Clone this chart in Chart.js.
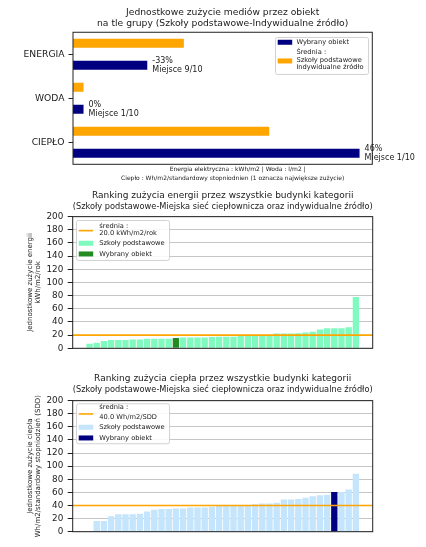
<!DOCTYPE html>
<html>
<head>
<meta charset="utf-8">
<script src="https://cdn.jsdelivr.net/npm/chart.js@4.4.1/dist/chart.umd.min.js"></script>
<style>
  html, body { margin: 0; padding: 0; background: #fff; }
  body { width: 426px; height: 547px; position: relative; overflow: hidden; }
  canvas { position: absolute; left: 0; }
</style>
</head>
<body>
<canvas id="media-chart" width="426" height="190" style="top:0px"></canvas>
<canvas id="energy-chart" width="426" height="176" style="top:186px"></canvas>
<canvas id="heat-chart" width="426" height="179" style="top:368px"></canvas>
<script>
// --- chart 1: selected object vs group average
var CATEGORIES = ['ENERGIA', 'WODA', 'CIEPŁO'];
var GROUP_AVERAGE = [20.0, 1.9, 35.4];
var SELECTED_VALUE = [13.4, 1.9, 51.7];
var CHANGE_LABELS = ['-33%', '0%', '46%'];
var RANK_LABELS = ['Miejsce 9/10', 'Miejsce 1/10', 'Miejsce 1/10'];
var FOOTNOTE = ['Energia elektryczna : kWh/m2 | Woda : l/m2 |',
                'Ciepło : Wh/m2/standardowy stopniodnien (1 oznacza największe zużycie)'];

// --- chart 2: energy ranking
var ENERGY_VALUES = [7, 8.5, 11, 12.5, 12.5, 12.5, 13.5, 13.5, 14.5, 14.5, 14.5, 14.5, 15.5,
                     16.5, 16.5, 16.5, 16.5, 17, 17.5, 17.5, 17.5, 18.5, 18.5, 18.5, 18.5, 18.5,
                     22.5, 22.5, 22.5, 23, 24, 25, 28.5, 30.5, 30.5, 30.5, 32, 78];
var ENERGY_SELECTED = 12;
var ENERGY_MEAN = 20.0;

// --- chart 3: heat ranking
var HEAT_VALUES = [0, 16.5, 16.5, 23.5, 26.5, 26.5, 26.5, 27.5, 31, 33.5, 34.5, 34.5, 35.5,
                   35.5, 37, 37, 37, 38, 39.5, 39.5, 39.5, 39.5, 39.5, 42, 43, 43, 44, 49, 49,
                   50, 52, 54, 55.5, 56.5, 60.5, 60.5, 64.5, 88.5];
var HEAT_SELECTED = 34;
var HEAT_MEAN = 40.0;

var FONT = '"DejaVu Sans", sans-serif';
var TEXT = '#1a1a1a';
var BAR_WIDTH = 0.88;

Chart.defaults.font.family = FONT;
Chart.defaults.color = TEXT;

var framePlugin = {
    id: 'frame',
    afterDatasetsDraw: function(chart) {
        var a = chart.chartArea, ctx = chart.ctx;
        ctx.save();
        ctx.strokeStyle = '#222';
        ctx.lineWidth = 1;
        ctx.strokeRect(a.left, a.top, a.right - a.left, a.bottom - a.top);
        ctx.restore();
    }
};

// legend box drawn inside the plot, like the matplotlib one
function boxLegend(spec) {
    return {
        id: 'boxLegend',
        afterDatasetsDraw: function(chart) {
            var a = chart.chartArea, ctx = chart.ctx;
            var bx = spec.side === 'right' ? a.right - spec.dx - spec.w : a.left + spec.dx;
            var by = a.top + spec.dy;
            ctx.save();
            ctx.beginPath();
            ctx.roundRect(bx + 0.5, by + 0.5, spec.w, spec.h, 2);
            ctx.fillStyle = 'rgba(255,255,255,0.85)';
            ctx.fill();
            ctx.strokeStyle = '#d2d2d2';
            ctx.lineWidth = 1;
            ctx.stroke();
            ctx.font = '6.7px ' + FONT;
            ctx.textBaseline = 'middle';
            ctx.textAlign = 'left';
            spec.items.forEach(function(it) {
                if (it.kind === 'patch') {
                    ctx.fillStyle = it.color;
                    ctx.fillRect(bx + 2.7, by + it.y - 2.5, 14.5, 5);
                } else if (it.kind === 'line') {
                    ctx.strokeStyle = it.color;
                    ctx.lineWidth = 1.6;
                    ctx.beginPath();
                    ctx.moveTo(bx + 2.7, by + it.y);
                    ctx.lineTo(bx + 17.2, by + it.y);
                    ctx.stroke();
                } else {
                    ctx.fillStyle = TEXT;
                    ctx.fillText(it.text, bx + spec.tx, by + it.y);
                }
            });
            ctx.restore();
        }
    };
}

var barLabels = {
    id: 'barLabels',
    afterDatasetsDraw: function(chart) {
        var ctx = chart.ctx, a = chart.chartArea;
        var meta = chart.getDatasetMeta(1);
        ctx.save();
        ctx.fillStyle = TEXT;
        ctx.textBaseline = 'middle';
        ctx.textAlign = 'left';
        ctx.font = '8px ' + FONT;
        meta.data.forEach(function(bar, i) {
            ctx.fillText(CHANGE_LABELS[i], bar.x + 5, bar.y - 4.6);
            ctx.fillText(RANK_LABELS[i], bar.x + 5, bar.y + 4.4);
        });
        // axis note under the plot
        ctx.font = '6px ' + FONT;
        ctx.textAlign = 'center';
        var cx = (a.left + a.right) / 2;
        ctx.fillText(FOOTNOTE[0], cx + 15, a.bottom + 5.4);
        ctx.fillText(FOOTNOTE[1], cx + 10, a.bottom + 13.7);
        ctx.restore();
    }
};

new Chart(document.getElementById('media-chart'), {
    type: 'bar',
    data: {
        labels: CATEGORIES,
        datasets: [
            { label: 'Średnia', data: GROUP_AVERAGE, backgroundColor: '#ffa500' },
            { label: 'Wybrany obiekt', data: SELECTED_VALUE, backgroundColor: '#000080' }
        ]
    },
    options: {
        indexAxis: 'y',
        responsive: false,
        animation: false,
        events: [],
        layout: { padding: { top: 0, left: 0, right: 53.7, bottom: 25.7 } },
        datasets: { bar: { categoryPercentage: 1.0, barPercentage: 0.41 } },
        scales: {
            x: { type: 'linear', min: 0, max: 54, display: false },
            y: {
                type: 'category',
                offset: true,
                grid: { offset: false, drawOnChartArea: false, tickLength: 4.5, tickColor: '#222' },
                border: { display: false },
                ticks: { padding: 4, color: TEXT, font: { size: 9.2 } },
                afterFit: function(s) { s.width = 73; }
            }
        },
        plugins: {
            legend: { display: false },
            tooltip: { enabled: false },
            title: {
                display: true,
                fullSize: false,
                text: ['Jednostkowe zużycie mediów przez obiekt',
                       'na tle grupy (Szkoły podstawowe-Indywidualne źródło)'],
                color: TEXT,
                font: { size: 9.2, weight: 'normal', lineHeight: 1.15 },
                padding: { top: 7.4, bottom: 3.7 }
            }
        }
    },
    plugins: [framePlugin, barLabels, boxLegend({
        side: 'right', dx: 4.3, dy: 4.7, w: 93, h: 37, tx: 21.4,
        items: [
            { kind: 'patch', color: '#000080', y: 5.3 },
            { kind: 'text', text: 'Wybrany obiekt', y: 5.3 },
            { kind: 'text', text: 'Średnia :', y: 15.3 },
            { kind: 'patch', color: '#ffa500', y: 24 },
            { kind: 'text', text: 'Szkoły podstawowe', y: 23.3 },
            { kind: 'text', text: 'Indywidualne źródło', y: 30.7 }
        ]
    })]
});

function rankingChart(id, values, selected, mean, baseColor, selColor, title, yTitle, pad, legend) {
    var n = values.length;
    var margin = 0.05 * (n - 1 + BAR_WIDTH);
    var xMin = -BAR_WIDTH / 2 - margin;
    var xMax = n - 1 + BAR_WIDTH / 2 + margin;
    var points = values.map(function(v, i) { return { x: i, y: v }; });
    var colors = values.map(function(v, i) { return i === selected ? selColor : baseColor; });

    new Chart(document.getElementById(id), {
        type: 'bar',
        data: {
            datasets: [
                {
                    type: 'line', label: 'średnia',
                    data: [{ x: xMin, y: mean }, { x: xMax, y: mean }],
                    borderColor: '#ffa500', borderWidth: 1.6, pointRadius: 0, order: 0
                },
                {
                    type: 'bar', label: 'Szkoły podstawowe', data: points,
                    backgroundColor: colors, categoryPercentage: 1.0, barPercentage: BAR_WIDTH, order: 1
                }
            ]
        },
        options: {
            responsive: false,
            animation: false,
            events: [],
            layout: { padding: { top: 0, left: 0, right: 53.3, bottom: pad.bottom } },
            scales: {
                x: { type: 'linear', min: xMin, max: xMax, offset: false, display: false },
                y: {
                    type: 'linear', min: 0, max: 200,
                    ticks: { stepSize: 20, autoSkip: false, padding: 4.4, color: TEXT, font: { size: 8.8 } },
                    grid: { color: '#c6c6c6', lineWidth: 1, tickLength: 5, tickColor: '#222' },
                    border: { display: false },
                    title: {
                        display: true, text: yTitle, color: TEXT,
                        font: { size: 7, lineHeight: 1.2 },
                        padding: { top: 25.8, bottom: 0 }
                    },
                    afterFit: function(s) { s.width = 72.7; }
                }
            },
            plugins: {
                legend: { display: false },
                tooltip: { enabled: false },
                title: {
                    display: true, fullSize: false, text: title, color: TEXT,
                    font: { size: 9, weight: 'normal', lineHeight: 1.22 },
                    padding: { top: pad.titleTop, bottom: pad.titleBottom }
                }
            }
        },
        plugins: [framePlugin, boxLegend(legend)]
    });
}

rankingChart('energy-chart', ENERGY_VALUES, ENERGY_SELECTED, ENERGY_MEAN, '#80fabe', '#228b22',
    ['Ranking zużycia energii przez wszystkie budynki kategorii',
     '(Szkoły podstawowe-Miejska sieć ciepłownicza oraz indywidualne źródło)'],
    ['Jednostkowe zużycie energii', 'kWh/m2/rok'],
    { titleTop: 4.2, titleBottom: 4.5, bottom: 13.7 },
    { side: 'left', dx: 3.3, dy: 3.3, w: 93, h: 40, tx: 23.3,
      items: [
          { kind: 'text', text: 'średnia :', y: 6.3 },
          { kind: 'line', color: '#ffa500', y: 10.7 },
          { kind: 'text', text: ENERGY_MEAN.toFixed(1) + ' kWh/m2/rok', y: 13.3 },
          { kind: 'patch', color: '#80fabe', y: 23.3 },
          { kind: 'text', text: 'Szkoły podstawowe', y: 23.3 },
          { kind: 'patch', color: '#228b22', y: 34 },
          { kind: 'text', text: 'Wybrany obiekt', y: 34 }
      ] });

rankingChart('heat-chart', HEAT_VALUES, HEAT_SELECTED, HEAT_MEAN, '#c4e5fb', '#000080',
    ['Ranking zużycia ciepła przez wszystkie budynki kategorii',
     '(Szkoły podstawowe-Miejska sieć ciepłownicza oraz indywidualne źródło)'],
    ['Jednostkowe zużycie ciepła', 'Wh/m2/standardowy stopniodzień (SDD)'],
    { titleTop: 5.5, titleBottom: 5.2, bottom: 15.3 },
    { side: 'left', dx: 3.3, dy: 2.6, w: 93, h: 40, tx: 23.3,
      items: [
          { kind: 'text', text: 'średnia :', y: 4.4 },
          { kind: 'line', color: '#ffa500', y: 10.7 },
          { kind: 'text', text: HEAT_MEAN.toFixed(1) + ' Wh/m2/SDD', y: 14.4 },
          { kind: 'patch', color: '#c4e5fb', y: 24 },
          { kind: 'text', text: 'Szkoły podstawowe', y: 24 },
          { kind: 'patch', color: '#000080', y: 34.7 },
          { kind: 'text', text: 'Wybrany obiekt', y: 34.7 }
      ] });
</script>
</body>
</html>
